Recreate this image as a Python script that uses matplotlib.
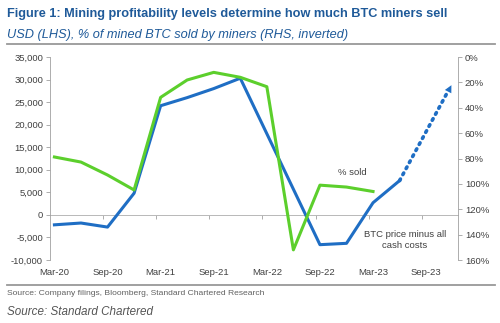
import numpy as np
import matplotlib
matplotlib.use("Agg")
import matplotlib.pyplot as plt
from matplotlib.lines import Line2D
from matplotlib.ticker import FuncFormatter

plt.rcParams['font.family'] = ['Liberation Sans', 'DejaVu Sans']

# month index: 0 = Mar-20, quarterly points
months = [0, 3, 6, 9, 12, 15, 18, 21, 24, 27, 30, 33, 36, 39]
btc_margin = [-2200, -1800, -2700, 4800, 24200, 26000, 28000, 30300,
              18000, 5700, -6600, -6300, 2700, 7600]   # USD, LHS
fcst_months = [39, 45]
fcst_margin = [7600, 29300]
sold_months = [0, 3, 6, 9, 12, 15, 18, 21, 24, 27, 30, 33, 36]
pct_sold = [78.8, 82.8, 93, 104.8, 31.8, 18.1, 12.1, 16, 23.4, 152, 101, 102.5, 106]  # %, RHS inverted

tick_months = [0, 6, 12, 18, 24, 30, 36, 42]
tick_labels = ['Mar-20', 'Sep-20', 'Mar-21', 'Sep-21', 'Mar-22', 'Sep-22', 'Mar-23', 'Sep-23']

blue = '#1f6ec4'
green = '#5ccf2c'
grey = '#a0a0a0'
txt = '#404040'

fig = plt.figure(figsize=(5, 3.23), dpi=100)
ax = fig.add_axes([0.1, 0.195, 0.816, 0.6285])
ax2 = ax.twinx()

ax.plot(months, btc_margin, color=blue, lw=2.2, zorder=3)
ax.plot(fcst_months[0:1] + [44.3], fcst_margin[0:1] + [26800], color=blue, lw=2.6,
        ls=(0, (0.5, 1.4)), dash_capstyle='round', zorder=3)
ax.annotate('', xy=(fcst_months[1], fcst_margin[1]), xytext=(44.0, 25500),
            arrowprops=dict(arrowstyle='-|>', color=blue, lw=0, mutation_scale=13))
ax2.plot(sold_months, pct_sold, color=green, lw=2.2, zorder=2)

ax.set_xlim(-0.5, 45.6)
ax.set_ylim(-10000, 35000)
ax.set_yticks(np.arange(-10000, 35001, 5000))
ax.yaxis.set_major_formatter(FuncFormatter(lambda v, p: f'{int(v):,}'))
ax2.set_ylim(160, 0)
ax2.set_yticks(np.arange(0, 161, 20))
ax2.yaxis.set_major_formatter(FuncFormatter(lambda v, p: f'{int(v)}%'))

ax.set_xticks(tick_months)
ax.set_xticklabels(tick_labels)
ax.tick_params(axis='x', length=0, pad=6, labelsize=6.8, labelcolor=txt)
ax.tick_params(axis='y', length=3, width=0.6, color=grey, labelsize=6.8, labelcolor=txt, pad=2)
ax2.tick_params(axis='y', length=3, width=0.6, color=grey, labelsize=6.8, labelcolor=txt, pad=2)

for a in (ax, ax2):
    for s in ['top', 'bottom']:
        a.spines[s].set_visible(False)
    a.spines['left'].set_color(grey)
    a.spines['right'].set_color(grey)
    a.spines['left'].set_linewidth(0.6)
    a.spines['right'].set_linewidth(0.6)
ax2.spines['left'].set_visible(False)
ax.spines['right'].set_visible(False)

# zero line with tick marks
zero = ax.secondary_xaxis(10000 / 45000)
zero.set_xticks([m - 0.5 for m in tick_months[1:]])
zero.set_xticklabels([])
zero.tick_params(length=3, width=0.6, color=grey)
zero.spines['bottom'].set_color('#b8b8b8')
zero.spines['bottom'].set_linewidth(0.7)

ax.text(33.7, 9300, '% sold', fontsize=6.8, color=txt, ha='center', va='center')
ax.text(39.6, -5600, 'BTC price minus all\ncash costs', fontsize=6.8, color=txt,
        ha='center', va='center', linespacing=1.3)

fig.text(0.014, 0.957, 'Figure 1: Mining profitability levels determine how much BTC miners sell',
         fontsize=9.2, fontweight='bold', color='#1f5a99', va='center')
fig.text(0.014, 0.892, 'USD (LHS), % of mined BTC sold by miners (RHS, inverted)',
         fontsize=9.2, style='italic', color='#1f5a99', va='center')
fig.add_artist(Line2D([0.014, 0.99], [0.864, 0.864], color='#999999', lw=1.3))
fig.add_artist(Line2D([0.014, 0.99], [0.119, 0.119], color='#999999', lw=1.3))
fig.text(0.014, 0.09, 'Source: Company filings, Bloomberg, Standard Chartered Research',
         fontsize=6.1, color='#606060', va='center')
fig.text(0.014, 0.034, 'Source: Standard Chartered', fontsize=8.4, style='italic',
         color='#555555', va='center')

plt.savefig('out.png', dpi=100)
